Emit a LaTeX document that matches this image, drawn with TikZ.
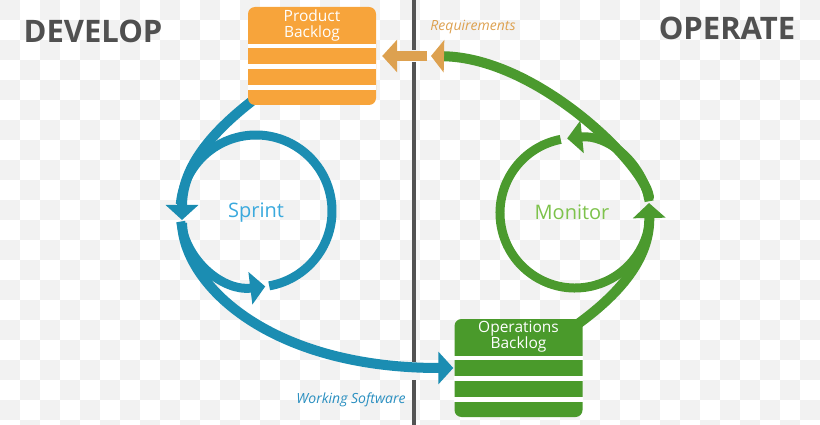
\documentclass[tikz,border=0pt]{standalone}
\usepackage{fontspec}
\setmainfont{Open Sans}
\usetikzlibrary{arrows.meta}
\usetikzlibrary{calc}
\definecolor{pborange}{HTML}{F7A43B}
\definecolor{obgreen}{HTML}{4A9A2B}
\definecolor{loopblue}{HTML}{1B8DB2}
\definecolor{loopgreen}{HTML}{4B9A2E}
\definecolor{reqtan}{HTML}{DDA150}
\definecolor{sprinttext}{HTML}{3AA9DD}
\definecolor{monitortext}{HTML}{7DC24B}
\definecolor{headgray}{HTML}{505050}
\definecolor{wstext}{HTML}{2A8FC0}
\pgfdeclarelayer{back}
\pgfdeclarelayer{mid}
\pgfsetlayers{back,mid,main}
\newcommand{\backlog}[5]{%
  \node[backlog, fill=#2] (#1) at (#3,{#4+49}) {};
  \node[boxtext] (#1-t) at (#3,{#4+18}) {#5};
  % white gaps between the rows
  \foreach \s in {39,59.5,80.5}
    \draw[white, line width=4.5pt] ($(#1.north west)+(0,\s)$) -- ($(#1.north east)+(0,\s)$);
}

\begin{document}
\begin{tikzpicture}[x=1pt, y=-1pt,
  backlog/.style={rounded corners=7pt, minimum width=128pt, minimum height=98pt, inner sep=0pt},
  boxtext/.style={text=white, align=center, font=\fontsize{15.5}{16}\selectfont, inner sep=0pt},
  flow/.style={line width=10pt},
  ring/.style={line width=9pt},
  headtip/.style={-{Triangle[length=15pt, width=32pt]}},
  side/.style={text=headgray, font=\fontsize{31}{33}\selectfont\bfseries},
  note/.style={font=\fontsize{14}{15}\selectfont\itshape},
  loopname/.style={font=\fontsize{20}{22}\selectfont},
  divider/.style={draw=black!67, line width=3.5pt},
  checker/.style={fill=black!5}]
  \useasboundingbox (0,0) rectangle (820,425);
  \begin{pgfonlayer}{back}
    \begin{scope}
      \clip (0,0) rectangle (820,425);
      \foreach \i in {0,...,40}
        \foreach \j in {0,...,21} {
          \pgfmathparse{int(mod(\i+\j,2))}
          \ifnum\pgfmathresult=0 \fill[checker] (20*\i,20*\j) rectangle ++(20,20); \fi
        }
    \end{scope}
  \end{pgfonlayer}

  \draw[divider] (414,0) -- (414,50);
  \draw[divider] (414,62) -- (414,362);
  \draw[divider] (414,380) -- (414,425);

  \backlog{pb}{pborange}{312}{7}{Product\\Backlog}
  \backlog{ob}{obgreen}{518.5}{319}{Operations\\Backlog}

  \node[side, anchor=base] (dev) at (93,43) {DEVELOP};
  \node[side, anchor=base] (opr) at (727,40) {OPERATE};
  \node[note, text=reqtan, anchor=base] (reqlabel) at (473,31) {Requirements};
  \node[note, text=wstext, anchor=base] (wslabel) at (351,403) {Working Software};
  \node[loopname, text=sprinttext, anchor=base] (sprint) at (256,218) {Sprint};
  \node[loopname, text=monitortext, anchor=base] (monitor) at (572,220) {Monitor};
  \coordinate (sc) at (256,211);
  \coordinate (mc) at (575,213);
  \coordinate (sl) at (182,220);
  \coordinate (mr) at (649,203);
  \coordinate (req) at (431,56);

  \begin{pgfonlayer}{mid}
    % sprint loop
    \draw[ring, loopblue] ($(sc)+(80:76)$) arc[start angle=80, end angle=-175, radius=76];
    \draw[ring, loopblue, headtip] ($(sc)+(172:76)$) arc[start angle=172, end angle=83, radius=76];
    % develop -> operate
    \draw[flow, loopblue, headtip] ($(pb.south west)+(4,-4)$) .. controls (215,130) and (182,165) .. (sl);
    \draw[flow, loopblue, headtip] ($(sl)+(0,3)$) .. controls (184,285) and (270,368) .. ($(ob.west)+(-1,0)$);
    % monitor loop
    \draw[ring, loopgreen, headtip] ($(mc)+(351:75)$) arc[start angle=351, end angle=264, radius=75];
    \draw[ring, loopgreen] ($(mc)+(259:75)$) arc[start angle=259, end angle=8, radius=75];
    % operate -> develop
    \draw[flow, loopgreen, headtip] ($(ob.north east)+(-6,6)$) .. controls (625,290) and (650,255) .. (mr);
    \draw[flow, loopgreen, -{Triangle[length=13pt, width=32pt, color=reqtan]}] ($(mr)+(0,-4)$) .. controls (650,170) and (540,58) .. (req);
    \draw[flow, reqtan, headtip] ($(req)+(-4,0)$) -- ($(pb.east)+(6,0)$);
  \end{pgfonlayer}
\end{tikzpicture}
\end{document}
